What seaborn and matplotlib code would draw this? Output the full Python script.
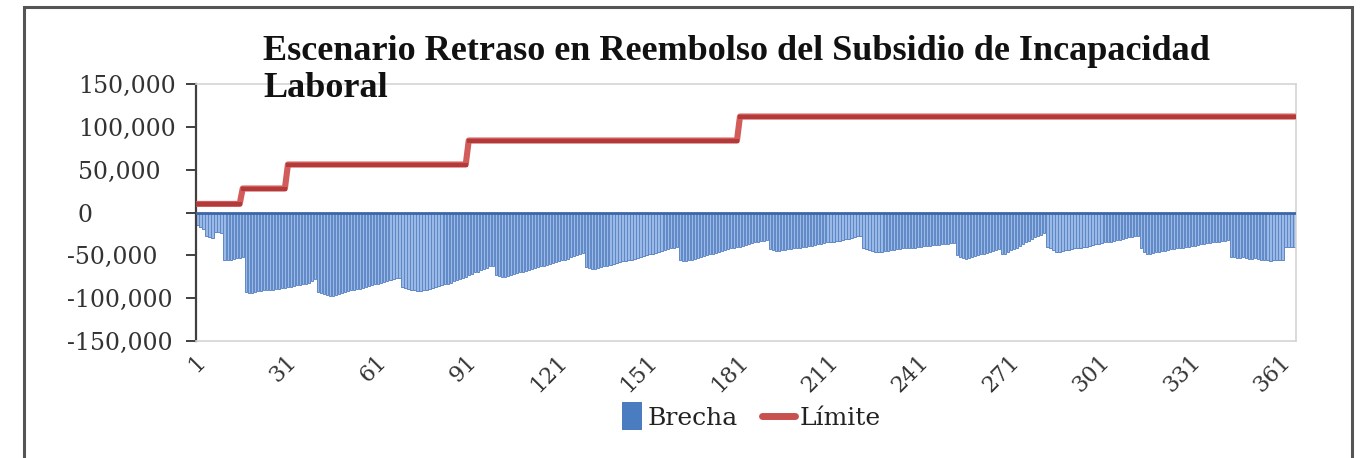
import numpy as np
import pandas as pd
import matplotlib
matplotlib.use("Agg")
import matplotlib.pyplot as plt
import matplotlib.transforms as mtransforms
from matplotlib.patches import Rectangle, Patch
from matplotlib.lines import Line2D
from matplotlib.legend_handler import HandlerPatch
from matplotlib.ticker import FuncFormatter
import seaborn as sns

# ---------------- data ----------------
titulo = "Escenario Retraso en Reembolso del Subsidio de Incapacidad\nLaboral"
dias = list(range(1, 366))
brecha_miles = [
    # días 1-16
    -15, -17, -19, -27, -29, -30, -23, -23, -24, -55, -56, -55, -54, -53, -53, -52,
    # días 17-40
    -93, -94, -94, -93, -92, -92, -91, -91, -90, -90, -89, -89, -88, -88, -87, -87,
    -86, -85, -85, -84, -83, -82, -80, -78,
    # días 41-68
    -93, -94, -95, -96, -97, -97, -96, -95, -94, -93, -92, -91, -90, -89, -89, -88,
    -87, -86, -85, -84, -83, -82, -81, -80, -79, -78, -77, -76,
    # días 69-99
    -87, -88, -89, -90, -91, -92, -92, -91, -90, -89, -88, -87, -86, -85, -84, -83,
    -82, -80, -79, -78, -76, -75, -73, -72, -70, -69, -67, -66, -65, -63, -62,
    # días 100-129
    -73, -74, -75, -75, -74, -73, -72, -71, -70, -69, -68, -67, -66, -65, -64, -63,
    -62, -61, -60, -59, -58, -57, -56, -55, -54, -52, -51, -50, -49, -47,
    # días 130-160
    -64, -65, -66, -66, -65, -64, -63, -62, -61, -60, -59, -58, -57, -57, -56, -55,
    -54, -53, -52, -51, -50, -49, -48, -47, -46, -45, -44, -43, -42, -41, -40,
    # días 161-190
    -56, -57, -57, -56, -55, -54, -53, -52, -51, -50, -49, -48, -47, -46, -45, -44,
    -43, -42, -41, -40, -40, -39, -38, -37, -36, -35, -34, -33, -33, -32,
    # días 191-221
    -43, -44, -45, -45, -44, -44, -43, -43, -42, -42, -41, -40, -40, -39, -39, -38,
    -37, -37, -36, -35, -35, -34, -33, -33, -32, -31, -31, -30, -29, -28, -27,
    # días 222-252
    -42, -43, -44, -45, -46, -46, -46, -45, -45, -44, -44, -43, -43, -42, -42, -41,
    -41, -41, -40, -40, -39, -39, -39, -38, -38, -38, -37, -37, -37, -36, -36,
    # días 253-282
    -50, -52, -53, -54, -53, -52, -51, -50, -49, -48, -47, -46, -45, -44, -43, -49,
    -48, -46, -44, -43, -41, -39, -37, -35, -33, -31, -29, -27, -26, -24,
    # días 283-313
    -40, -42, -44, -46, -46, -45, -44, -44, -43, -42, -42, -41, -40, -40, -39, -38,
    -37, -37, -36, -35, -35, -34, -33, -32, -32, -31, -30, -29, -29, -28, -27,
    # días 314-343
    -42, -46, -49, -48, -47, -46, -46, -45, -45, -44, -43, -43, -42, -42, -41, -40,
    -40, -39, -39, -38, -37, -37, -36, -36, -35, -34, -34, -33, -33, -32,
    # días 344-365
    -52, -52, -53, -53, -52, -53, -54, -54, -53, -54, -55, -56, -56, -57, -56, -56,
    -55, -55, -40, -40, -40, -40,
]
limite_niveles = [10000, 28000, 56000, 84000, 112000]
limite_duracion = [15, 15, 60, 90, 185]
xtick_dias = [1, 31, 61, 91, 121, 151, 181, 211, 241, 271, 301, 331, 361]
ytick_vals = [-150000, -100000, -50000, 0, 50000, 100000, 150000]
leyenda = ["Brecha", "Límite"]

brecha = np.array(brecha_miles, dtype=float) * 1000
limite = np.repeat(limite_niveles, limite_duracion)
df = pd.DataFrame({"Día": dias, "Brecha": brecha, "Límite": limite})

# ---------------- style ----------------
sns.set_theme(style="white")
plt.rcParams["font.family"] = ["DejaVu Serif", "DejaVu Sans"]

W, H = 1365, 458
fig = plt.figure(figsize=(W / 100, H / 100), dpi=100)
fig.patch.set_facecolor("white")

ax = fig.add_axes([196 / W, 1 - 341 / H, 1100 / W, 257 / H])

bar_face = "#9ab9e6"
bar_edge = "#5f88c6"

sns.barplot(data=df, x="Día", y="Brecha", native_scale=True, color=bar_face,
            edgecolor=bar_edge, linewidth=0.7, width=0.75, saturation=1,
            errorbar=None, ax=ax, zorder=2)
sns.lineplot(data=df, x="Día", y="Límite", color="#d25c5a", lw=4.4,
             marker="s", markersize=2.6, markeredgewidth=0,
             markerfacecolor="#b23a3a", errorbar=None, ax=ax, zorder=4)

ax.axhline(0, color="#3e66a6", lw=2, zorder=3)

ax.set_xlim(0.5, 365.5)
ax.set_ylim(-150000, 150000)
ax.set_xlabel("")
ax.set_ylabel("")

# spines
for s in ["top", "right", "bottom"]:
    ax.spines[s].set_color("#d4d4d4")
    ax.spines[s].set_linewidth(1.2)
ax.spines["left"].set_color("#404040")
ax.spines["left"].set_linewidth(1.6)

# y axis
ax.set_yticks(ytick_vals)
ax.yaxis.set_major_formatter(FuncFormatter(lambda v, p: f"{v:,.0f}"))
ax.tick_params(axis="y", which="major", left=True, length=7, width=1.4,
               color="#404040", direction="out", pad=78, labelsize=17,
               labelcolor="#333333")

# x axis
ax.set_xticks(xtick_dias)
ax.set_xticklabels([str(d) for d in xtick_dias], rotation=45, ha="right",
                   rotation_mode="anchor")
ax.tick_params(axis="x", length=0, pad=7, labelsize=16, labelcolor="#333333")

fig.canvas.draw()
for tick, v in zip(ax.yaxis.get_major_ticks(), ytick_vals):
    tick.label1.set_horizontalalignment("left")
    if v < 0:
        off = mtransforms.ScaledTranslation(-11 / 100, 0, fig.dpi_scale_trans)
        tick.label1.set_transform(tick.label1.get_transform() + off)
for tick in ax.xaxis.get_major_ticks():
    off = mtransforms.ScaledTranslation(-3 / 100, 0, fig.dpi_scale_trans)
    tick.label1.set_transform(tick.label1.get_transform() + off)

# title
fig.text(263 / W, 1 - 35 / H, titulo, ha="left", va="top", fontsize=26,
         fontweight="bold", family="Liberation Serif", color="#111111",
         linespacing=1.16)


# legend
def square_right(legend, orig_handle, xdescent, ydescent, width, height, fontsize):
    w = 14.4
    hh = height * 1.6
    return Rectangle((width - xdescent - w, -ydescent - (hh - height) / 2), w, hh)


handles = [
    Patch(facecolor="#4a7cc0", edgecolor="none"),
    Line2D([], [], color="#c8504f", lw=5),
]
fig.legend(handles, leyenda, loc="center", bbox_to_anchor=(0.546, 0.087),
           ncol=2, frameon=False, fontsize=18, handlelength=1.3,
           handletextpad=0.2, columnspacing=1.0, labelcolor="#222222",
           handler_map={Patch: HandlerPatch(patch_func=square_right)})

# outer frame of the chart
fig.patches.append(Rectangle((24 / W, -0.02), (1352 - 24) / W, 1 - 7 / H + 0.02,
                             transform=fig.transFigure, fill=False,
                             edgecolor="#555555", lw=2.2, zorder=10))

fig.savefig("out.png", dpi=100, facecolor="white")
